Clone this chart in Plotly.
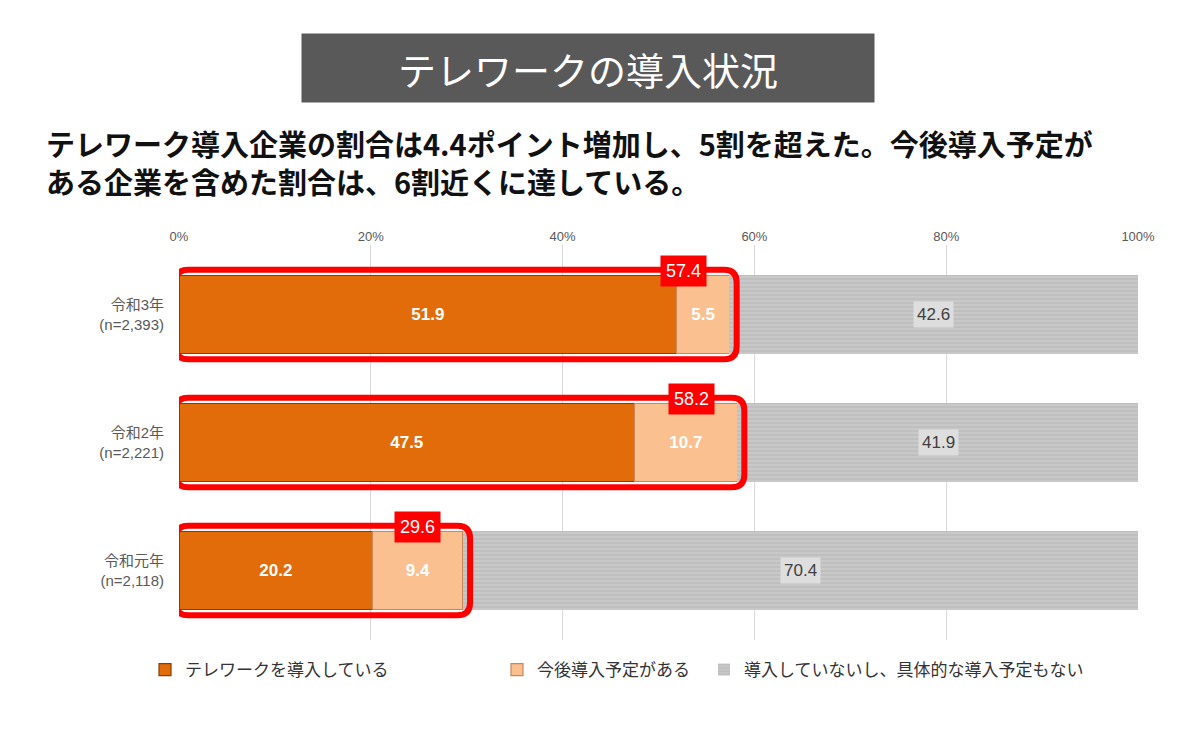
import plotly.graph_objects as go

# ---- data ----
categories = ["令和3年<br>(n=2,393)", "令和2年<br>(n=2,221)", "令和元年<br>(n=2,118)"]
introduced = [51.9, 47.5, 20.2]
planned = [5.5, 10.7, 9.4]
not_planned = [42.6, 41.9, 70.4]
totals = [57.4, 58.2, 29.6]
series_names = ["テレワークを導入している", "今後導入予定がある", "導入していないし、具体的な導入予定もない"]
x_ticks = [0, 20, 40, 60, 80, 100]
title_text = "テレワークの導入状況"
subtitle_lines = ["テレワーク導入企業の割合は4.4ポイント増加し、5割を超えた。今後導入予定が",
                  "ある企業を含めた割合は、6割近くに達している。"]

ypos = list(range(len(categories)))

FONT = "Liberation Sans, Arial, Noto Sans CJK JP, sans-serif"
JP = "Noto Sans CJK JP, sans-serif"

L, R, T, B = 179, 1138, 245, 640
PW, PH = R - L, B - T


def px(xp):
    return (xp - L) / PW


def py(yp):
    return (B - yp) / PH


fig = go.Figure()
fig.add_trace(go.Bar(
    y=ypos, x=introduced, orientation="h", name=series_names[0],
    marker=dict(color="#E36C0A", line=dict(color="#8A3D00", width=1.2)),
    text=[f"{v:.1f}" for v in introduced], textposition="inside",
    insidetextanchor="middle",
    textfont=dict(color="white", size=17, family=FONT, weight="bold"),
    legend="legend", hoverinfo="skip",
))
fig.add_trace(go.Bar(
    y=ypos, x=planned, orientation="h", name=series_names[1],
    marker=dict(color="#FAC090", line=dict(color="#C9875A", width=1.2)),
    text=[f"{v:.1f}" for v in planned], textposition="inside",
    insidetextanchor="middle",
    textfont=dict(color="white", size=17, family=FONT, weight="bold"),
    legend="legend2", hoverinfo="skip",
))
fig.add_trace(go.Bar(
    y=ypos, x=not_planned, orientation="h", name=series_names[2],
    marker=dict(color="#C8C8C8", line=dict(width=0),
                pattern=dict(shape="-", fgcolor="#AEAEAE", bgcolor="#C8C8C8",
                             size=4, solidity=0.35)),
    legend="legend3", hoverinfo="skip",
))

annotations = []
shapes = []
for i, y in enumerate(ypos):
    s = introduced[i] + planned[i]
    annotations.append(dict(
        x=s + not_planned[i] / 2, y=y, text=f"{not_planned[i]:.1f}", showarrow=False,
        font=dict(size=17, color="#404040", family=FONT),
        bgcolor="#DEDEDE", borderpad=3,
    ))
    annotations.append(dict(
        x=s, y=y - 0.34, text=f"{totals[i]:.1f}", showarrow=False,
        xanchor="right", xshift=-22,
        font=dict(size=18, color="white", family=FONT),
        bgcolor="#FF0000", borderpad=5,
    ))
    x0, x1 = -0.35, s + 0.75
    y0, y1 = y - 0.35, y + 0.35
    rx, ry = 1.3, 0.1
    path = (f"M {x0+rx},{y0} L {x1-rx},{y0} Q {x1},{y0} {x1},{y0+ry} "
            f"L {x1},{y1-ry} Q {x1},{y1} {x1-rx},{y1} L {x0+rx},{y1} "
            f"Q {x0},{y1} {x0},{y1-ry} L {x0},{y0+ry} Q {x0},{y0} {x0+rx},{y0} Z")
    shapes.append(dict(type="path", path=path, xref="x", yref="y",
                       line=dict(color="#FF0000", width=6), layer="above"))

# title box
annotations.append(dict(
    xref="paper", yref="paper", x=px(588), y=py(68), yanchor="middle",
    text=title_text, showarrow=False,
    font=dict(size=38, color="white", family=JP),
    bgcolor="#595959", width=570, height=66, align="center",
))
# subtitle
annotations.append(dict(
    xref="paper", yref="paper", x=px(44), y=py(162),
    xanchor="left", yanchor="middle", align="left",
    text="<br>".join(subtitle_lines), showarrow=False,
    font=dict(size=29, color="#111111", family=JP, weight="bold"),
))

legend_common = dict(orientation="h", yanchor="middle", y=py(670),
                     font=dict(size=17, color="#333333", family=JP),
                     bgcolor="rgba(0,0,0,0)", itemwidth=30)

fig.update_layout(
    width=1200, height=749,
    margin=dict(l=L, r=1200 - R, t=T, b=749 - B, autoexpand=False),
    barmode="stack", bargap=0.39,
    plot_bgcolor="white", paper_bgcolor="white",
    showlegend=True,
    legend=dict(x=px(145), xanchor="left", **legend_common),
    legend2=dict(x=px(497), xanchor="left", **legend_common),
    legend3=dict(x=px(704), xanchor="left", **legend_common),
    xaxis=dict(range=[0, 100], side="top", tickvals=x_ticks,
               ticktext=[f"{t}%" for t in x_ticks],
               showgrid=True, gridcolor="#D9D9D9", gridwidth=1,
               zeroline=False, showline=False, automargin=False,
               tickfont=dict(size=13, color="#595959", family=FONT)),
    yaxis=dict(range=[2.543, -0.543], tickvals=ypos, ticktext=categories,
               showgrid=False, zeroline=False, showline=False, automargin=False,
               ticklabelstandoff=14,
               tickfont=dict(size=15, color="#595959", family=FONT)),
    annotations=annotations, shapes=shapes,
)

fig.write_html("out.html", post_script="document.body.style.margin='0';",
               config={"displayModeBar": False})
